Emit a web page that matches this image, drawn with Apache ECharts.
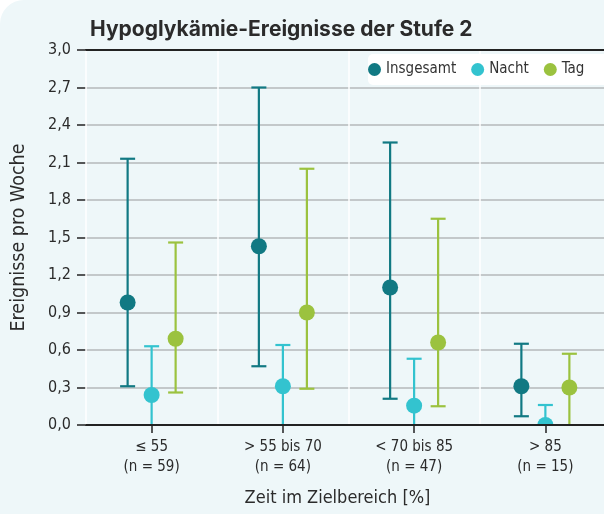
<!DOCTYPE html>
<html><head><meta charset="utf-8">
<script src="https://cdn.jsdelivr.net/npm/echarts@6/dist/echarts.min.js"></script>
<style>
html,body{margin:0;padding:0;background:#ffffff;}
#card{position:absolute;left:0;top:0;width:604px;height:514px;background:#eef7f9;border-top-left-radius:24px;}
#chart{position:absolute;left:0;top:0;width:604px;height:514px;}
</style></head>
<body><div id="card"></div><div id="chart"></div>
<script>
const categories = ['≤ 55\n(n = 59)', '> 55 bis 70\n(n = 64)', '< 70 bis 85\n(n = 47)', '> 85\n(n = 15)'];
const seriesNames = ['Insgesamt', 'Nacht', 'Tag'];
const insgesamtMean = [0.98, 1.43, 1.10, 0.31];
const insgesamtLow  = [0.31, 0.47, 0.21, 0.07];
const insgesamtHigh = [2.13, 2.70, 2.26, 0.65];
const nachtMean = [0.24, 0.31, 0.155, 0.0];
const nachtLow  = [0.0, 0.0, 0.0, 0.0];
const nachtHigh = [0.63, 0.64, 0.53, 0.16];
const tagMean = [0.69, 0.90, 0.66, 0.30];
const tagLow  = [0.26, 0.29, 0.15, 0.0];
const tagHigh = [1.46, 2.05, 1.65, 0.57];
const yTicks = [0, 0.3, 0.6, 0.9, 1.2, 1.5, 1.8, 2.1, 2.4, 2.7, 3.0];

const FONT = "'DejaVu Sans Condensed', 'Roboto', sans-serif";
const colors = ['#117983', '#33c3cf', '#9bc23f'];
const offsets = [-24, 0, 24];

function build(mean, low, high) {
  return mean.map((m, i) => [i, m, low[i], high[i]]);
}
const allData = [
  build(insgesamtMean, insgesamtLow, insgesamtHigh),
  build(nachtMean, nachtLow, nachtHigh),
  build(tagMean, tagLow, tagHigh)
];

function renderItem(params, api) {
  const cat = api.value(0), mean = api.value(1), lo = api.value(2), hi = api.value(3);
  const off = offsets[params.seriesIndex];
  const c = colors[params.seriesIndex];
  const pm = api.coord([cat, mean]);
  const x = pm[0] + off;
  const yl = api.coord([cat, lo])[1];
  const yh = api.coord([cat, hi])[1];
  const ls = {stroke: c, lineWidth: 2.2};
  const children = [
    {type: 'line', shape: {x1: x, y1: yl, x2: x, y2: yh}, style: ls},
    {type: 'line', shape: {x1: x - 7.5, y1: yh, x2: x + 7.5, y2: yh}, style: ls}
  ];
  if (lo > 0) children.push({type: 'line', shape: {x1: x - 7.5, y1: yl, x2: x + 7.5, y2: yl}, style: ls});
  children.push({type: 'circle', shape: {cx: x, cy: pm[1], r: 8}, style: {fill: c}});
  return {type: 'group', children};
}

const chart = echarts.init(document.getElementById('chart'), null, {renderer: 'canvas'});
chart.setOption({
  backgroundColor: 'transparent',
  animation: false,
  title: {
    text: 'Hypoglykämie-Ereignisse der Stufe 2',
    left: 85, top: 14,
    textStyle: {fontFamily: "'Inter', sans-serif", fontWeight: 'bold', fontSize: 21, color: '#2b2b2b'}
  },
  legend: {
    data: seriesNames.map(n => ({name: n, icon: 'circle'})),
    left: 368, top: 54, width: 300, z: 20,
    backgroundColor: '#ffffff', borderRadius: 5,
    padding: [8, 40, 8, 0],
    itemWidth: 13, itemHeight: 13, itemGap: 15,
    textStyle: {fontFamily: FONT, fontSize: 15, color: '#333'}
  },
  grid: {left: 86, top: 50, right: -7, bottom: 89, containLabel: false, outerBoundsMode: 'none'},
  xAxis: [{
    type: 'category', data: categories, z: 10,
    name: 'Zeit im Zielbereich [%]', nameLocation: 'middle', nameGap: 64,
    nameTextStyle: {fontFamily: FONT, fontSize: 18, color: '#2b2b2b', padding: [0, 22, 0, 0]},
    axisLine: {show: true, lineStyle: {color: '#222', width: 2}},
    axisTick: {show: true, alignWithLabel: true, length: 8, lineStyle: {color: '#222', width: 1.5}},
    axisLabel: {fontFamily: FONT, fontSize: 15, color: '#2b2b2b', lineHeight: 20, margin: 12},
    splitLine: {show: true, lineStyle: {color: '#ffffff', width: 1.5}}
  }, {
    type: 'category', data: categories, position: 'top', z: 10,
    axisLine: {show: true, lineStyle: {color: '#222', width: 2}},
    axisTick: {show: false}, axisLabel: {show: false}, splitLine: {show: false}
  }],
  yAxis: {
    type: 'value', min: 0, max: 3, interval: 0.3,
    name: 'Ereignisse pro Woche', nameLocation: 'middle', nameGap: 57,
    nameTextStyle: {fontFamily: FONT, fontSize: 19.5, color: '#2b2b2b'},
    axisLine: {show: false},
    axisTick: {show: true, length: 9, lineStyle: {color: '#222', width: 1.5}},
    axisLabel: {fontFamily: FONT, fontSize: 16, color: '#2b2b2b', margin: 15,
      formatter: v => v.toFixed(1).replace('.', ',')},
    splitLine: {show: true, lineStyle: {color: '#b4b8ba', width: 1.5}}
  },
  series: seriesNames.map((n, i) => ({
    name: n, type: 'custom', renderItem, clip: true,
    itemStyle: {color: colors[i]},
    encode: {x: 0, y: [1, 2, 3]},
    data: allData[i]
  }))
});
</script></body></html>
